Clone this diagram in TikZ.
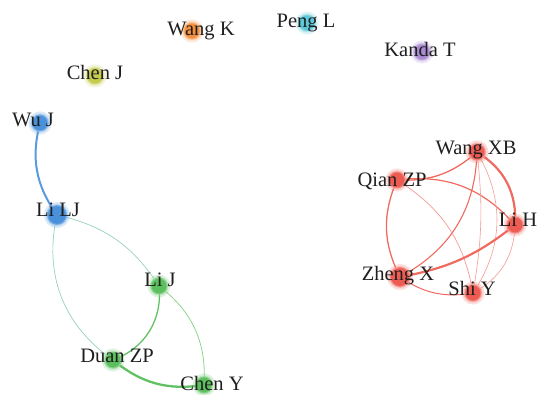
\documentclass[tikz,border=0pt]{standalone}
\usepackage{fontspec}
\setmainfont{Liberation Serif}
\usetikzlibrary{backgrounds}
\definecolor{cBlue}{HTML}{4A90DA}
\definecolor{cGreen}{HTML}{5CBF5E}
\definecolor{cRed}{HTML}{EE5B52}
\definecolor{cOrange}{HTML}{F5903F}
\definecolor{cCyan}{HTML}{5BC9D9}
\definecolor{cPurple}{HTML}{A98BD2}
\definecolor{cOlive}{HTML}{C5CB4D}
\definecolor{eBlue}{HTML}{5A9BE0}
\definecolor{eTeal}{HTML}{96D3B4}
\definecolor{eGreen}{HTML}{62C163}
\definecolor{eLight}{HTML}{8ED48E}
\definecolor{eRed}{HTML}{F06A60}
\definecolor{eRose}{HTML}{F59A92}
\tikzset{
  dot/.style ={circle, inner sep=0pt, minimum size=17pt, fill=#1, draw=#1!55, line width=2pt, draw opacity=0.6,
               preaction={draw=#1, draw opacity=0.2, line width=6pt}},
  bigdot/.style={dot=#1, minimum size=20pt},
  lbl/.style ={anchor=base, inner sep=0pt, font=\fontsize{20.5}{24}\selectfont, text=black!88},
}
\begin{document}
\begin{tikzpicture}[x=1pt, y=-1pt]
  \useasboundingbox (0,0) rectangle (538,395);

  % authors
  \node[dot=cOrange]  (wangK)  at (192,31)  {};
  \node[dot=cCyan]    (pengL)  at (307,23)  {};
  \node[dot=cPurple]  (kandaT) at (422,52)  {};
  \node[dot=cOlive]   (chenJ)  at (95,76)   {};
  \node[dot=cBlue]    (wuJ)    at (40,123)  {};
  \node[bigdot=cBlue] (liLJ)   at (57,215)  {};
  \node[dot=cGreen]   (liJ)    at (159,286) {};
  \node[dot=cGreen]   (duanZP) at (113,360) {};
  \node[dot=cGreen]   (chenY)  at (204,385) {};
  \node[dot=cRed]     (wangXB) at (477,152) {};
  \node[dot=cRed]     (qianZP) at (397,180) {};
  \node[dot=cRed]     (liH)    at (515,225) {};
  \node[bigdot=cRed]  (zhengX) at (400,277) {};
  \node[dot=cRed]     (shiY)   at (473,293) {};

  % names
  \node[lbl] (wangK-t)  at (201,36)  {Wang K};
  \node[lbl] (pengL-t)  at (306,28)  {Peng L};
  \node[lbl] (kandaT-t) at (420,57)  {Kanda T};
  \node[lbl] (chenJ-t)  at (95,80)   {Chen J};
  \node[lbl] (wuJ-t)    at (33,127)  {Wu J};
  \node[lbl] (liLJ-t)   at (58,217)  {Li LJ};
  \node[lbl] (liJ-t)    at (160,287) {Li J};
  \node[lbl] (duanZP-t) at (117,362) {Duan ZP};
  \node[lbl] (chenY-t)  at (212,390) {Chen Y};
  \node[lbl] (wangXB-t) at (476,155) {Wang XB};
  \node[lbl] (qianZP-t) at (392,187) {Qian ZP};
  \node[lbl] (liH-t)    at (518,227) {Li H};
  \node[lbl] (zhengX-t) at (398,280) {Zheng X};
  \node[lbl] (shiY-t)   at (472,295) {Shi Y};

  % co-authorship links
  \begin{scope}[on background layer]
    \foreach \p/\q/\lw/\col/\ang in {liLJ/wuJ/2.0/eBlue/25, liLJ/liJ/0.7/eTeal/22,
        duanZP/liLJ/0.7/eTeal/34, liJ/duanZP/1.3/eGreen/38, liJ/chenY/0.8/eLight/28,
        chenY/duanZP/2.3/eGreen/24,
        wangXB/qianZP/1.3/eRed/22, qianZP/liH/1.2/eRed/28, wangXB/liH/2.2/eRed/31,
        wangXB/zhengX/1.1/eRed/30, wangXB/shiY/0.6/eRose/8, wangXB/shiY/0.6/eRose/32,
        liH/shiY/0.6/eRose/30, qianZP/shiY/0.7/eRose/24, zhengX/qianZP/1.3/eRed/25,
        liH/zhengX/2.2/eRed/14, shiY/zhengX/1.0/eRed/22}
      \draw[line width=\lw pt, color=\col] (\p.center) to[bend left=\ang] (\q.center);
  \end{scope}
\end{tikzpicture}
\end{document}
